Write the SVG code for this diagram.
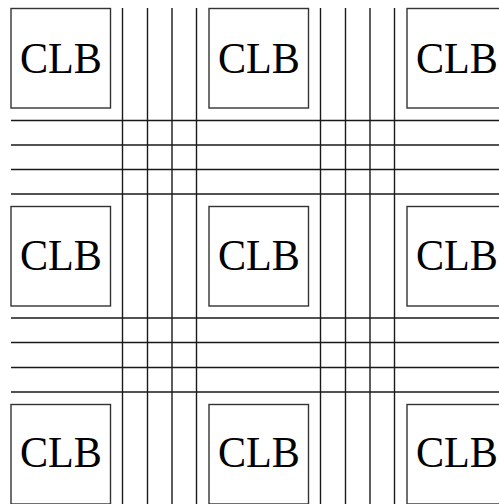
<svg xmlns="http://www.w3.org/2000/svg" width="499" height="504" viewBox="0 0 499 504">
<style>
.box{fill:#fff;stroke:#333;stroke-width:1.4}
.lbl{font-family:"Liberation Serif","DejaVu Serif",serif;font-size:44px;fill:#000;text-anchor:middle}
.w{stroke:#1a1a1a;stroke-width:1.4;fill:none}
</style>
<rect width="499" height="504" fill="#fff"/>
<g id="connectors">
<path class="w" d="M11 120.5H510M11 145H510M11 169.5H510M11 194H510M11 318H510M11 342.5H510M11 367.5H510M11 392H510"/>
<path class="w" d="M122.5 8V510M147.5 8V510M172 8V510M196.5 8V510M320.5 8V510M345.5 8V510M370 8V510M394.5 8V510"/>
</g>
<g id="clb11"><rect class="box" x="11" y="8.5" width="99.5" height="99.5"/><text class="lbl" x="61" y="72.5" textLength="82" lengthAdjust="spacingAndGlyphs">CLB</text></g>
<g id="clb12"><rect class="box" x="209" y="8.5" width="99.5" height="99.5"/><text class="lbl" x="259" y="72.5" textLength="82" lengthAdjust="spacingAndGlyphs">CLB</text></g>
<g id="clb13"><rect class="box" x="407" y="8.5" width="99.5" height="99.5"/><text class="lbl" x="457" y="72.5" textLength="82" lengthAdjust="spacingAndGlyphs">CLB</text></g>
<g id="clb21"><rect class="box" x="11" y="206.5" width="99.5" height="99.5"/><text class="lbl" x="61" y="270" textLength="82" lengthAdjust="spacingAndGlyphs">CLB</text></g>
<g id="clb22"><rect class="box" x="209" y="206.5" width="99.5" height="99.5"/><text class="lbl" x="259" y="270" textLength="82" lengthAdjust="spacingAndGlyphs">CLB</text></g>
<g id="clb23"><rect class="box" x="407" y="206.5" width="99.5" height="99.5"/><text class="lbl" x="457" y="270" textLength="82" lengthAdjust="spacingAndGlyphs">CLB</text></g>
<g id="clb31"><rect class="box" x="11" y="404.5" width="99.5" height="99.5"/><text class="lbl" x="61" y="467" textLength="82" lengthAdjust="spacingAndGlyphs">CLB</text></g>
<g id="clb32"><rect class="box" x="209" y="404.5" width="99.5" height="99.5"/><text class="lbl" x="259" y="467" textLength="82" lengthAdjust="spacingAndGlyphs">CLB</text></g>
<g id="clb33"><rect class="box" x="407" y="404.5" width="99.5" height="99.5"/><text class="lbl" x="457" y="467" textLength="82" lengthAdjust="spacingAndGlyphs">CLB</text></g>
</svg>
